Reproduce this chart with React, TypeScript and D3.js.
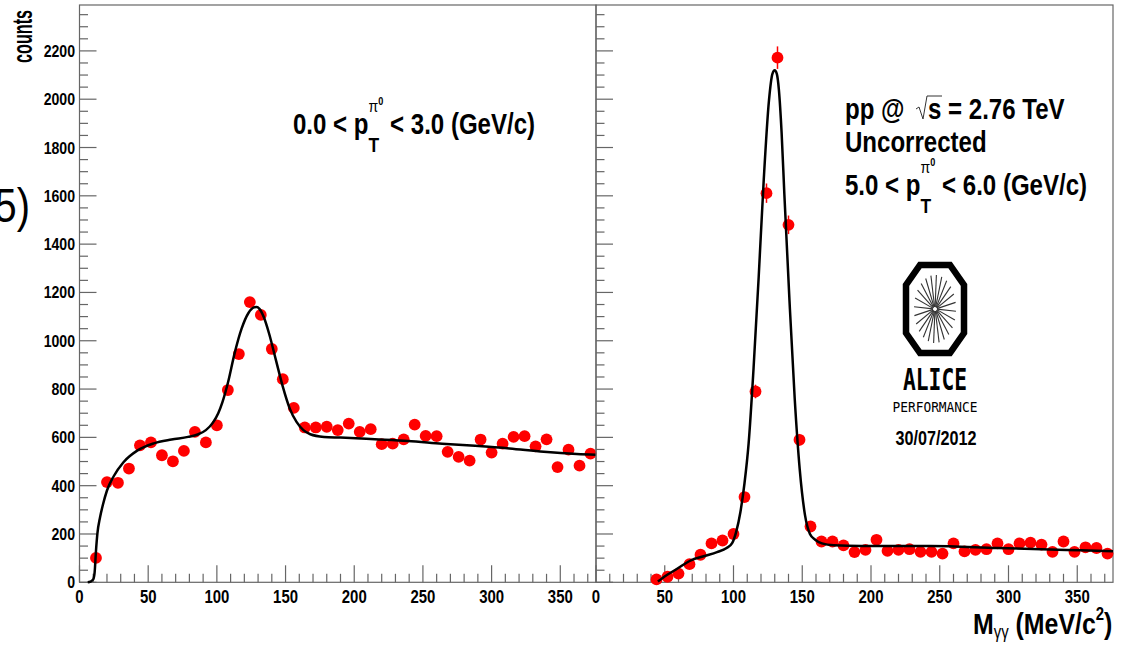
import React from 'react';
import * as d3 from 'd3';

const W = 1122;
const H = 646;

// Left panel: 0.0 < pT < 3.0 GeV/c
const leftMass = [12, 20, 28, 36, 44, 52, 60, 68, 76, 84, 92, 100, 108, 116, 124, 132, 140, 148, 156, 164, 172, 180, 188, 196, 204, 212, 220, 228, 236, 244, 252, 260, 268, 276, 284, 292, 300, 308, 316, 324, 332, 340, 348, 356, 364, 372];
const leftCounts = [101, 415, 412, 471, 567, 579, 526, 501, 544, 623, 579, 650, 796, 945, 1160, 1107, 966, 841, 722, 641, 641, 644, 630, 657, 623, 634, 572, 574, 592, 653, 606, 605, 540, 519, 504, 591, 537, 574, 602, 605, 563, 592, 477, 549, 483, 533];

// Right panel: 5.0 < pT < 6.0 GeV/c
const rightMass = [44, 52, 60, 68, 76, 84, 92, 100, 108, 116, 124, 132, 140, 148, 156, 164, 172, 180, 188, 196, 204, 212, 220, 228, 236, 244, 252, 260, 268, 276, 284, 292, 300, 308, 316, 324, 332, 340, 348, 356, 364, 372];
const rightCounts = [12, 23, 36, 75, 114, 161, 173, 200, 353, 790, 1611, 2172, 1480, 590, 231, 169, 169, 153, 125, 134, 176, 130, 134, 137, 126, 126, 119, 161, 128, 134, 137, 161, 137, 161, 164, 156, 126, 169, 126, 145, 142, 119];

// Fit curves
const leftFit: [number, number][] = [[6, 0], [8, 3], [10, 12], [11, 40], [12, 130], [13, 200], [15, 270], [17, 320], [20, 380], [25, 440], [32, 497], [42, 545], [54, 575], [67, 591], [79, 602], [86, 612], [92, 630], [97, 660], [101, 700], [104, 745], [108, 825], [113, 950], [118, 1050], [123, 1115], [127, 1138], [129, 1140], [131, 1132], [134, 1100], [138, 1030], [143, 920], [148, 810], [153, 720], [158, 664], [163, 630], [168, 613], [178, 602], [190, 599], [215, 592], [239, 585], [264, 574], [288, 565], [313, 554], [338, 540], [362, 531], [376, 528]];
const rightFit: [number, number][] = [[45, 3], [51, 28], [59, 56], [69, 91], [79, 109], [88, 125], [95, 142], [99, 162], [102, 210], [105, 290], [108, 410], [111, 575], [114.6, 887], [118.3, 1262], [122, 1667], [125.8, 1995], [128.3, 2105], [130, 2120], [131.5, 2105], [133, 2040], [135, 1860], [137, 1605], [140.7, 1168], [144.5, 762], [148.2, 465], [152, 278], [155.6, 200], [159.4, 176], [164.3, 161], [173, 153], [193, 150], [243, 150], [292, 142], [342, 134], [376, 129]];

const xTickLabels = [0, 50, 100, 150, 200, 250, 300, 350];
const yTickLabels = [0, 200, 400, 600, 800, 1000, 1200, 1400, 1600, 1800, 2000, 2200];

const X_MAX = 376;
const Y_MAX = 2390;
const TOP = 5;
const BOTTOM = 582.3;
const XL0 = 79.5;
const XMID = 596;
const XR1 = 1113;

const SX = 0.83;
const FONT = "'Liberation Sans', Arial, Helvetica, sans-serif";
const AXIS = '#666';

function T(props: any) {
  const { x, y, size, anchor = 'start', weight = 'bold', family = FONT, sx = SX, children, fill = '#000', ...rest } = props;
  return (
    <text transform={`translate(${x},${y}) scale(${sx},1)`} fontSize={size} fontWeight={weight} fontFamily={family} textAnchor={anchor} fill={fill} {...rest}>
      {children}
    </text>
  );
}

function Panel({ x, y, mass, counts, fit, showYLabels, showErrors }: any) {
  const [x0, x1] = x.range();
  const minorX = d3.range(0, X_MAX, 10).filter((v: number) => v % 50 !== 0);
  const minorY = d3.range(0, Y_MAX, 50).filter((v: number) => v % 200 !== 0);
  const line = d3.line<[number, number]>().x(d => x(d[0])).y(d => y(d[1])).curve(d3.curveMonotoneX);
  return (
    <g>
      <rect x={x0} y={TOP} width={x1 - x0} height={BOTTOM - TOP} fill="none" stroke={AXIS} strokeWidth={1.2} />
      {xTickLabels.map(v => (
        <line key={'xM' + v} x1={x(v)} x2={x(v)} y1={BOTTOM} y2={BOTTOM - 17} stroke={AXIS} strokeWidth={1.2} />
      ))}
      {minorX.map((v: number) => (
        <line key={'xm' + v} x1={x(v)} x2={x(v)} y1={BOTTOM} y2={BOTTOM - 8.5} stroke={AXIS} strokeWidth={1.2} />
      ))}
      {yTickLabels.map(v => (
        <line key={'yM' + v} x1={x0} x2={x0 + 17} y1={y(v)} y2={y(v)} stroke={AXIS} strokeWidth={1.2} />
      ))}
      {minorY.map((v: number) => (
        <line key={'ym' + v} x1={x0} x2={x0 + 8.5} y1={y(v)} y2={y(v)} stroke={AXIS} strokeWidth={1.2} />
      ))}
      {xTickLabels.map(v => (
        <T key={'xl' + v} x={x(v)} y={603} size={18} anchor="middle">{v}</T>
      ))}
      {showYLabels && yTickLabels.map(v => (
        <T key={'yl' + v} x={75} y={y(v) + 6} size={17} anchor="end">{v}</T>
      ))}
      {showErrors && mass.map((m: number, i: number) => (
        <line key={'e' + i} x1={x(m)} x2={x(m)} y1={y(counts[i] + Math.sqrt(counts[i]))} y2={y(Math.max(0, counts[i] - Math.sqrt(counts[i])))} stroke="#ff0000" strokeWidth={1.5} />
      ))}
      {mass.map((m: number, i: number) => (
        <circle key={'p' + i} cx={x(m)} cy={y(counts[i])} r={5.9} fill="#ff0000" />
      ))}
      <path d={line(fit) || ''} fill="none" stroke="#000" strokeWidth={2.5} strokeLinejoin="round" />
    </g>
  );
}

function AliceLogo() {
  const L = 906, R = 964, Tp = 265, B = 353, cx = 14, cy = 20;
  const pts = [[L + cx, Tp], [R - cx, Tp], [R, Tp + cy], [R, B - cy], [R - cx, B], [L + cx, B], [L, B - cy], [L, Tp + cy]];
  const c = [935, 309];
  const spokes = d3.range(24).map((i: number) => (i * Math.PI * 2) / 24 + Math.PI / 48);
  return (
    <g>
      <polygon points={pts.map(p => p.join(',')).join(' ')} fill="none" stroke="#000" strokeWidth={6.5} strokeLinejoin="miter" />
      {spokes.map((a: number, i: number) => (
        <line key={i} x1={c[0] + 2 * Math.cos(a)} y1={c[1] + 2 * Math.sin(a)} x2={c[0] + 21 * Math.cos(a)} y2={c[1] + 34 * Math.sin(a)} stroke="#333" strokeWidth={1.1} />
      ))}
      <text x={903} y={390} fontSize={31} fontWeight="bold" fontFamily="'DejaVu Sans Mono', monospace" textLength={64} lengthAdjust="spacingAndGlyphs" fill="#000">ALICE</text>
      <text x={892.5} y={412} fontSize={14} fontFamily="'DejaVu Sans Mono', monospace" textLength={85} lengthAdjust="spacingAndGlyphs" fill="#000">PERFORMANCE</text>
      <text x={895.5} y={445} fontSize={21} fontWeight="bold" fontFamily={FONT} textLength={81} lengthAdjust="spacingAndGlyphs" fill="#000">30/07/2012</text>
    </g>
  );
}

function PtLabel({ x, y, lo, hi }: any) {
  return (
    <T x={x} y={y} size={29}>
      {lo} &lt; p
      <tspan fontSize={21} dy={18}>T</tspan>
      <tspan fontSize={17} fontWeight="normal" dx={-12.8} dy={-40}>π</tspan>
      <tspan fontSize={11} dy={-7}>0</tspan>
      <tspan fontSize={29} dy={29}> &lt; {hi} (GeV/c)</tspan>
    </T>
  );
}

export default function App() {
  const y = d3.scaleLinear().domain([0, Y_MAX]).range([BOTTOM, TOP]);
  const xL = d3.scaleLinear().domain([0, X_MAX]).range([XL0, XMID]);
  const xR = d3.scaleLinear().domain([0, X_MAX]).range([XMID, XR1]);
  return (
    <svg width={W} height={H} style={{ position: 'absolute', left: 0, top: 0, background: '#fff' }}>
      <rect x={0} y={0} width={W} height={H} fill="#fff" />
      <T x={30} y={222} size={48} weight="normal" anchor="end">5)</T>
      <text transform="translate(32,63) rotate(-90) scale(0.6,1)" fontSize={27} fontWeight="bold" fontFamily={FONT}>counts</text>
      <Panel x={xL} y={y} mass={leftMass} counts={leftCounts} fit={leftFit} showYLabels={true} showErrors={false} />
      <Panel x={xR} y={y} mass={rightMass} counts={rightCounts} fit={rightFit} showYLabels={false} showErrors={true} />
      <PtLabel x={293} y={134} lo="0.0" hi="3.0" />
      <T x={845} y={119} size={29}>pp @</T>
      <path d="M916,109 L919,107 L923,119 L927,96 L942,96" fill="none" stroke="#333" strokeWidth={1} />
      <T x={928} y={119} size={29}>s = 2.76 TeV</T>
      <T x={845} y={152} size={29}>Uncorrected</T>
      <PtLabel x={845} y={195} lo="5.0" hi="6.0" />
      <AliceLogo />
      <T x={973} y={634} size={30}>
        M
        <tspan fontSize={18} fontWeight="normal" dy={4}>γγ</tspan>
        <tspan fontSize={30} dy={-4}> (MeV/c</tspan>
        <tspan fontSize={18} dy={-14}>2</tspan>
        <tspan fontSize={30} dy={14}>)</tspan>
      </T>
    </svg>
  );
}
